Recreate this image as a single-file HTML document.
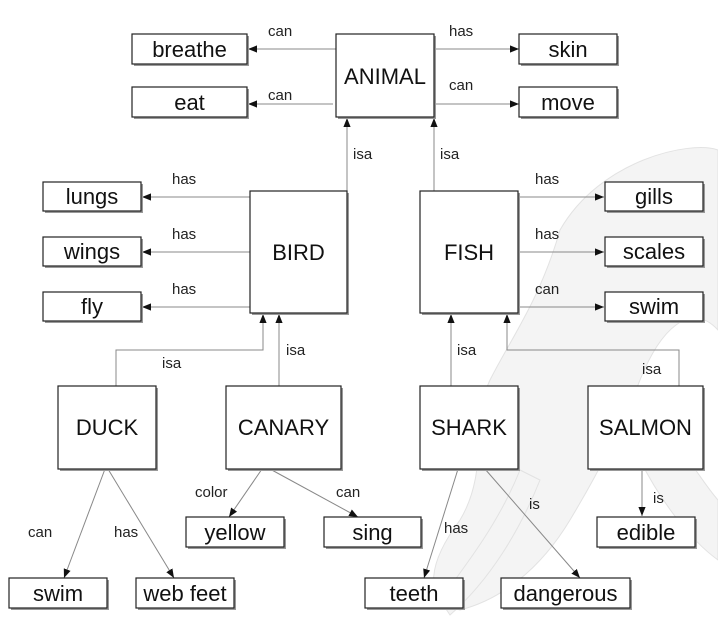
<!DOCTYPE html>
<html><head><meta charset="utf-8"><style>
html,body{margin:0;padding:0;background:#fff;}
svg{display:block;font-family:"Liberation Sans",Arial,sans-serif;}
.box{fill:#fff;stroke:#222;stroke-width:1.2;}
.sh{fill:#999;}
.bt{font-size:22px;fill:#111;text-anchor:middle;}
.el{font-size:15px;fill:#222;}
.ln{stroke:#888;stroke-width:1;fill:none;}
</style></head><body>
<svg width="718" height="626" viewBox="0 0 718 626">
<defs><marker id="ar" viewBox="0 0 10 10" refX="10" refY="5" markerWidth="9" markerHeight="9" orient="auto" markerUnits="userSpaceOnUse"><path d="M0,1 L10,5 L0,9 z" fill="#111"/></marker></defs>
<g fill="#f2f2f2" stroke="#dcdcdc" stroke-width="1" opacity="0.8">
<path d="M560,230 C600,160 690,140 718,150 L718,330 C690,300 660,330 640,380 C620,430 600,470 570,520 C540,570 500,600 460,610 C420,600 430,560 460,520 C490,470 470,420 490,380 C510,340 540,300 560,230 Z"/>
<path d="M440,600 C470,560 500,520 520,470 L540,480 C520,530 490,580 450,615 Z"/>
<path d="M650,420 C680,440 700,480 718,500 L718,560 C690,540 660,500 640,460 Z"/>
</g>
<g>
<line class="ln" x1="336" y1="49" x2="248" y2="49" marker-end="url(#ar)"/>
<line class="ln" x1="333" y1="104" x2="248" y2="104" marker-end="url(#ar)"/>
<line class="ln" x1="434" y1="49" x2="519" y2="49" marker-end="url(#ar)"/>
<line class="ln" x1="434" y1="104" x2="519" y2="104" marker-end="url(#ar)"/>
<line class="ln" x1="347" y1="191" x2="347" y2="118" marker-end="url(#ar)"/>
<line class="ln" x1="434" y1="191" x2="434" y2="118" marker-end="url(#ar)"/>
<line class="ln" x1="250" y1="197" x2="142" y2="197" marker-end="url(#ar)"/>
<line class="ln" x1="250" y1="252" x2="142" y2="252" marker-end="url(#ar)"/>
<line class="ln" x1="250" y1="307" x2="142" y2="307" marker-end="url(#ar)"/>
<line class="ln" x1="518" y1="197" x2="604" y2="197" marker-end="url(#ar)"/>
<line class="ln" x1="518" y1="252" x2="604" y2="252" marker-end="url(#ar)"/>
<line class="ln" x1="518" y1="307" x2="604" y2="307" marker-end="url(#ar)"/>
<polyline class="ln" points="116,386 116,350 263,350 263,314" marker-end="url(#ar)"/>
<line class="ln" x1="279" y1="386" x2="279" y2="314" marker-end="url(#ar)"/>
<line class="ln" x1="451" y1="386" x2="451" y2="314" marker-end="url(#ar)"/>
<polyline class="ln" points="679,386 679,350 507,350 507,314" marker-end="url(#ar)"/>
<line class="ln" x1="105" y1="469" x2="64" y2="578" marker-end="url(#ar)"/>
<line class="ln" x1="108" y1="469" x2="174" y2="578" marker-end="url(#ar)"/>
<line class="ln" x1="262" y1="469" x2="229" y2="517" marker-end="url(#ar)"/>
<line class="ln" x1="270" y1="469" x2="358" y2="517" marker-end="url(#ar)"/>
<line class="ln" x1="458" y1="469" x2="424" y2="578" marker-end="url(#ar)"/>
<line class="ln" x1="485" y1="469" x2="580" y2="578" marker-end="url(#ar)"/>
<line class="ln" x1="642" y1="469" x2="642" y2="516" marker-end="url(#ar)"/>
</g>
<g class="el">
<text x="268" y="36">can</text>
<text x="268" y="100">can</text>
<text x="449" y="36">has</text>
<text x="449" y="90">can</text>
<text x="353" y="159">isa</text>
<text x="440" y="159">isa</text>
<text x="172" y="184">has</text>
<text x="172" y="239">has</text>
<text x="172" y="294">has</text>
<text x="535" y="184">has</text>
<text x="535" y="239">has</text>
<text x="535" y="294">can</text>
<text x="162" y="368">isa</text>
<text x="286" y="355">isa</text>
<text x="457" y="355">isa</text>
<text x="642" y="374">isa</text>
<text x="28" y="537">can</text>
<text x="114" y="537">has</text>
<text x="195" y="497">color</text>
<text x="336" y="497">can</text>
<text x="444" y="533">has</text>
<text x="529" y="509">is</text>
<text x="653" y="503">is</text>
</g>
<g>
<g><rect class="sh" x="338" y="36" width="98" height="83"/><rect class="box" x="336" y="34" width="98" height="83"/><text class="bt" x="385" y="84">ANIMAL</text></g>
<g><rect class="sh" x="134" y="36" width="115" height="30"/><rect class="box" x="132" y="34" width="115" height="30"/><text class="bt" x="189.5" y="57">breathe</text></g>
<g><rect class="sh" x="134" y="89" width="115" height="30"/><rect class="box" x="132" y="87" width="115" height="30"/><text class="bt" x="189.5" y="110">eat</text></g>
<g><rect class="sh" x="521" y="36" width="98" height="30"/><rect class="box" x="519" y="34" width="98" height="30"/><text class="bt" x="568" y="57">skin</text></g>
<g><rect class="sh" x="521" y="89" width="98" height="30"/><rect class="box" x="519" y="87" width="98" height="30"/><text class="bt" x="568" y="110">move</text></g>
<g><rect class="sh" x="252" y="193" width="97" height="122"/><rect class="box" x="250" y="191" width="97" height="122"/><text class="bt" x="298.5" y="260">BIRD</text></g>
<g><rect class="sh" x="422" y="193" width="98" height="122"/><rect class="box" x="420" y="191" width="98" height="122"/><text class="bt" x="469" y="260">FISH</text></g>
<g><rect class="sh" x="45" y="184" width="98" height="29"/><rect class="box" x="43" y="182" width="98" height="29"/><text class="bt" x="92" y="204">lungs</text></g>
<g><rect class="sh" x="45" y="239" width="98" height="29"/><rect class="box" x="43" y="237" width="98" height="29"/><text class="bt" x="92" y="259">wings</text></g>
<g><rect class="sh" x="45" y="294" width="98" height="29"/><rect class="box" x="43" y="292" width="98" height="29"/><text class="bt" x="92" y="314">fly</text></g>
<g><rect class="sh" x="607" y="184" width="98" height="29"/><rect class="box" x="605" y="182" width="98" height="29"/><text class="bt" x="654" y="204">gills</text></g>
<g><rect class="sh" x="607" y="239" width="98" height="29"/><rect class="box" x="605" y="237" width="98" height="29"/><text class="bt" x="654" y="259">scales</text></g>
<g><rect class="sh" x="607" y="294" width="98" height="29"/><rect class="box" x="605" y="292" width="98" height="29"/><text class="bt" x="654" y="314">swim</text></g>
<g><rect class="sh" x="60" y="388" width="98" height="83"/><rect class="box" x="58" y="386" width="98" height="83"/><text class="bt" x="107" y="435">DUCK</text></g>
<g><rect class="sh" x="228" y="388" width="115" height="83"/><rect class="box" x="226" y="386" width="115" height="83"/><text class="bt" x="283.5" y="435">CANARY</text></g>
<g><rect class="sh" x="422" y="388" width="98" height="83"/><rect class="box" x="420" y="386" width="98" height="83"/><text class="bt" x="469" y="435">SHARK</text></g>
<g><rect class="sh" x="590" y="388" width="115" height="83"/><rect class="box" x="588" y="386" width="115" height="83"/><text class="bt" x="645.5" y="435">SALMON</text></g>
<g><rect class="sh" x="188" y="519" width="98" height="30"/><rect class="box" x="186" y="517" width="98" height="30"/><text class="bt" x="235" y="540">yellow</text></g>
<g><rect class="sh" x="326" y="519" width="97" height="30"/><rect class="box" x="324" y="517" width="97" height="30"/><text class="bt" x="372.5" y="540">sing</text></g>
<g><rect class="sh" x="599" y="519" width="98" height="30"/><rect class="box" x="597" y="517" width="98" height="30"/><text class="bt" x="646" y="540">edible</text></g>
<g><rect class="sh" x="11" y="580" width="98" height="30"/><rect class="box" x="9" y="578" width="98" height="30"/><text class="bt" x="58" y="601">swim</text></g>
<g><rect class="sh" x="138" y="580" width="98" height="30"/><rect class="box" x="136" y="578" width="98" height="30"/><text class="bt" x="185" y="601">web feet</text></g>
<g><rect class="sh" x="367" y="580" width="98" height="30"/><rect class="box" x="365" y="578" width="98" height="30"/><text class="bt" x="414" y="601">teeth</text></g>
<g><rect class="sh" x="503" y="580" width="129" height="30"/><rect class="box" x="501" y="578" width="129" height="30"/><text class="bt" x="565.5" y="601">dangerous</text></g>
</g>
</svg>
</body></html>
